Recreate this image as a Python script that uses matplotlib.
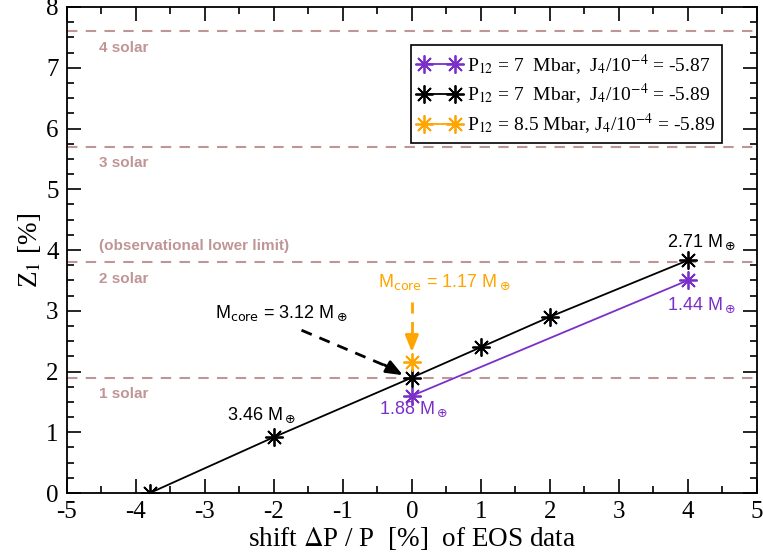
import numpy as np
import matplotlib
matplotlib.use("Agg")
import matplotlib.pyplot as plt

plt.rcParams["axes.unicode_minus"] = False

# data
shift_black = [-3.8, -2, 0, 1, 2, 4]
z1_black = [0.0, 0.92, 1.9, 2.4, 2.9, 3.83]
shift_purple = [0, 4]
z1_purple = [1.6, 3.5]
shift_orange = [0]
z1_orange = [2.15]

solar_levels = [1.9, 3.8, 5.7, 7.6]
solar_labels = ["1 solar", "2 solar", "3 solar", "4 solar"]

legend_labels = [r"P$_{12}$ = 7  Mbar,  J$_4$/10$^{-4}$ = -5.87",
                 r"P$_{12}$ = 7  Mbar,  J$_4$/10$^{-4}$ = -5.89",
                 r"P$_{12}$ = 8.5 Mbar, J$_4$/10$^{-4}$ = -5.89"]

purple = "#7b2fc9"
orange = "#ffa500"
rose = "#c09595"
serif = "Liberation Serif"
sans = "Liberation Sans"

fig = plt.figure(figsize=(7.63, 5.59), dpi=100)
ax = fig.add_axes([0.0878, 0.118, 0.904, 0.8695])

# solar reference lines
for lev, lab in zip(solar_levels, solar_labels):
    ax.axhline(lev, color=rose, lw=1.5, ls=(0, (5, 4)), zorder=1)
    ax.text(-4.53, lev - 0.27, lab, color=rose, fontsize=11, fontweight="bold",
            family=sans, va="center", ha="left")
ax.text(-4.53, 4.07, "(observational lower limit)", color=rose, fontsize=11,
        fontweight="bold", family=sans, va="center", ha="left")

mk = (8, 2, 0)
ax.plot(shift_purple, z1_purple, color=purple, lw=1.3, marker=mk, ms=13, mew=1.3,
        label=legend_labels[0], zorder=3)
ax.plot(shift_black, z1_black, color="black", lw=1.3, marker=mk, ms=13, mew=1.3,
        label=legend_labels[1], zorder=4)
ax.plot(shift_orange, z1_orange, color=orange, lw=1.3, marker=mk, ms=13, mew=1.3,
        label=legend_labels[2], zorder=5)

# annotations
def note(x, y, s, c, ha="center"):
    t = ax.text(x, y, s, color=c, fontsize=13, family=sans, ha=ha, va="center")
    t.set_math_fontfamily("dejavusans")

note(-2.86, 2.95, r"M$_{\rm core}$ = 3.12 M$_\oplus$", "black", ha="left")
note(-0.49, 3.47, r"M$_{\rm core}$ = 1.17 M$_\oplus$", orange, ha="left")
note(-2.18, 1.28, r"3.46 M$_\oplus$", "black")
note(0.02, 1.37, r"1.88 M$_\oplus$", purple)
note(4.2, 4.12, r"2.71 M$_\oplus$", "black")
note(4.2, 3.09, r"1.44 M$_\oplus$", purple)

# dashed arrows: shaft + solid head
ax.plot([-1.6, -0.35], [2.68, 2.08], color="black", lw=2, ls=(0, (4, 3)), zorder=6)
ax.annotate("", xy=(-0.13, 1.94), xytext=(-0.4, 2.11),
            arrowprops=dict(arrowstyle="-|>,head_length=1.0,head_width=0.4",
                            color="black", lw=2, shrinkA=0, shrinkB=0), zorder=6)
ax.plot([0, 0], [3.14, 2.55], color=orange, lw=2, ls=(0, (4, 3)), zorder=6)
ax.annotate("", xy=(0, 2.32), xytext=(0, 2.62),
            arrowprops=dict(arrowstyle="-|>,head_length=1.0,head_width=0.4",
                            color=orange, lw=2, shrinkA=0, shrinkB=0), zorder=6)

ax.set_xlim(-5, 5)
ax.set_ylim(0, 8)
ax.set_xticks(np.arange(-5, 6, 1))
ax.set_yticks(np.arange(0, 9, 1))
ax.set_xticks(np.arange(-5, 5.01, 0.5), minor=True)
ax.set_yticks(np.arange(0, 8.01, 0.25), minor=True)
ax.tick_params(which="both", direction="in", top=True, right=True, width=1.2)
ax.tick_params(which="major", length=10, labelsize=18)
ax.tick_params(axis="x", which="major", pad=6)
ax.tick_params(axis="y", which="major", pad=6)
ax.tick_params(which="minor", length=5)
for lab in ax.get_xticklabels() + ax.get_yticklabels():
    lab.set_family(serif)
for sp in ax.spines.values():
    sp.set_linewidth(1.3)

xl = ax.set_xlabel(r"shift $\Delta$P / P  [%]  of EOS data", fontsize=19.5, family=serif, labelpad=1)
yl = ax.set_ylabel(r"Z$_1$ [%]", fontsize=19.5, family=serif, labelpad=2)
xl.set_math_fontfamily("stix")
yl.set_math_fontfamily("stix")

leg = ax.legend(loc="upper right", bbox_to_anchor=(0.949, 0.922), numpoints=2,
                fancybox=False, edgecolor="black", framealpha=1,
                prop={"family": serif, "size": 14}, handlelength=2.2,
                handletextpad=0.3, borderpad=0.35, labelspacing=0.25,
                borderaxespad=0)
leg.get_frame().set_linewidth(1.2)
for t in leg.get_texts():
    t.set_math_fontfamily("stix")

fig.savefig("out.png", dpi=100)
